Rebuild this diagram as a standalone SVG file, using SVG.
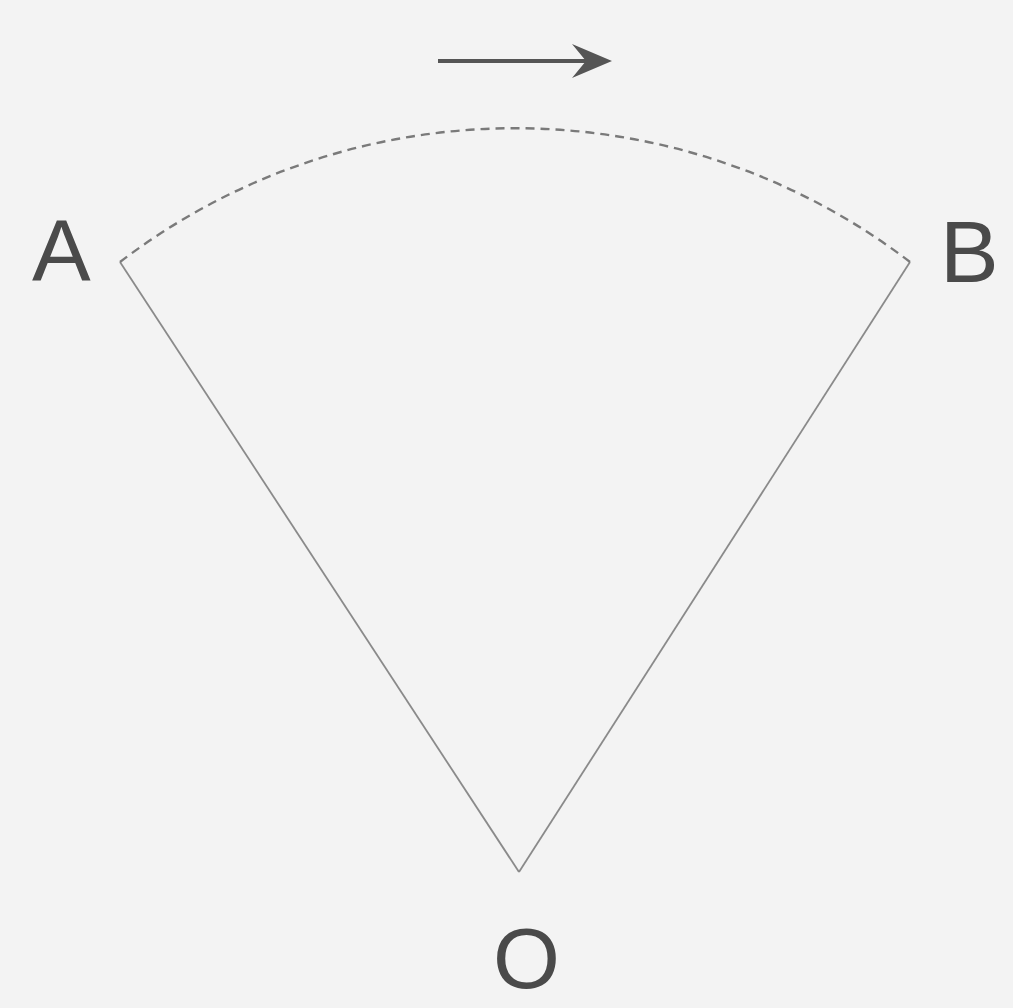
<svg xmlns="http://www.w3.org/2000/svg" width="1013" height="1008" viewBox="0 0 1013 1008">
<style>
.lbl{font-family:"Liberation Sans",Arial,sans-serif;font-size:88px;fill:#4a4a4a}
.side{stroke:#8a8a8a;stroke-width:1.8;fill:none}
</style>
<rect width="1013" height="1008" fill="#f3f3f3"/>
<g id="connectors">
<line class="side" x1="120" y1="262" x2="519" y2="872"/>
<line class="side" x1="910" y1="262" x2="519" y2="872"/>
<path d="M120,262 A650,650 0 0 1 910,262" fill="none" stroke="#7a7a7a" stroke-width="2.4" stroke-dasharray="9,6"/>
<g id="arrow">
<line x1="438" y1="61" x2="600" y2="61" stroke="#555" stroke-width="4"/>
<path d="M572,44 L612,61 L572,78 L586,61 Z" fill="#555"/>
</g>
</g>
<g id="A"><text class="lbl" x="32" y="281">A</text></g>
<g id="B"><text class="lbl" x="940" y="282">B</text></g>
<g id="O"><text class="lbl" x="493" y="988" style="font-size:86px">O</text></g>
</svg>
